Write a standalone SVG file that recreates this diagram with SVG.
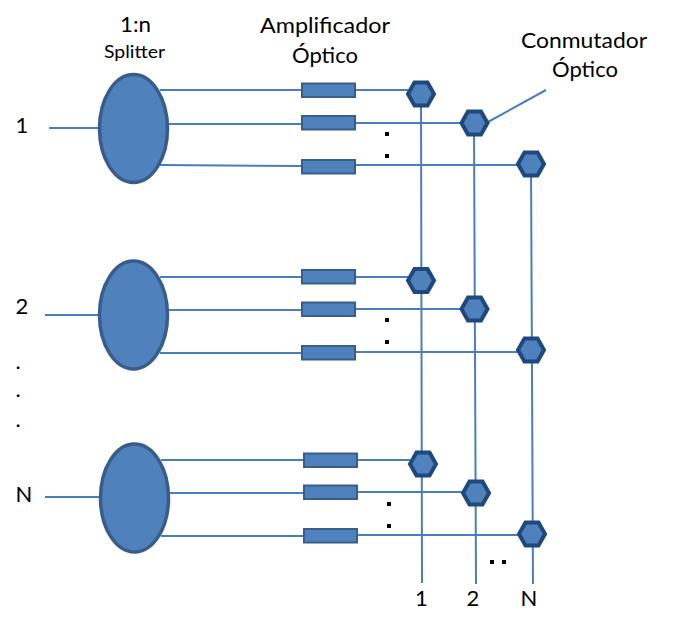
<svg xmlns="http://www.w3.org/2000/svg" width="681" height="629" viewBox="0 0 681 629">
<style>
.c{fill:none;stroke:#4a7ebb;stroke-width:2}
.s{fill:#4f81bd;stroke:#385d8a;stroke-width:3.500}
.a{fill:#4f81bd;stroke:#385d8a;stroke-width:2}
.h{fill:#4f81bd;stroke:#1f497d;stroke-width:4}
.t{font-family:Lato,"Open Sans","Liberation Sans",sans-serif;font-size:22px;fill:#000;text-anchor:middle}
.d{fill:#000}
</style>
<defs>
<polygon id="hex" points="-13,0 -6.500,-11.500 6.500,-11.500 13,0 6.500,11.500 -6.500,11.500"/>
</defs>
<g id="connectors" class="c">
<path d="M49 128H98M160 90H302M168 124H302M160 165L302 166M355 90H408M355 123H461M355 165H517"/>
<path d="M45 315H98M160 277H302M168 310H302M160 353L302 353M355 277H408M355 309H461M355 352H517"/>
<path d="M45 497H99M161 460H304M169 493H304M161 536L304 536M357 460H410M357 492H463M357 535H519"/>
<path d="M421 94L422 583M474 123L476 584M531 164L533 584M488 122L546 90"/>
</g>
<g id="splitter-1"><ellipse class="s" cx="133.500" cy="128.500" rx="34" ry="54"/></g>
<g id="splitter-2"><ellipse class="s" cx="133.500" cy="315" rx="34" ry="54"/></g>
<g id="splitter-3"><ellipse class="s" cx="134.500" cy="498" rx="34" ry="54"/></g>
<g id="amps-1">
<rect class="a" x="302" y="83.500" width="53" height="13.500"/>
<rect class="a" x="302" y="116" width="53" height="13.500"/>
<rect class="a" x="302" y="160" width="53" height="13.500"/>
</g>
<g id="amps-2">
<rect class="a" x="302" y="270" width="53" height="13.500"/>
<rect class="a" x="302" y="302.500" width="53" height="13.500"/>
<rect class="a" x="302" y="346" width="53" height="13.500"/>
</g>
<g id="amps-3">
<rect class="a" x="304" y="453.500" width="53" height="13.500"/>
<rect class="a" x="304" y="485.500" width="53" height="13.500"/>
<rect class="a" x="304" y="529" width="53" height="13.500"/>
</g>
<g id="switches-1">
<use href="#hex" class="h" x="421" y="94"/>
<use href="#hex" class="h" x="474.500" y="123"/>
<use href="#hex" class="h" x="531" y="164"/>
</g>
<g id="switches-2">
<use href="#hex" class="h" x="421" y="280.500"/>
<use href="#hex" class="h" x="474.500" y="309"/>
<use href="#hex" class="h" x="531" y="350"/>
</g>
<g id="switches-3">
<use href="#hex" class="h" x="423" y="464"/>
<use href="#hex" class="h" x="476" y="493"/>
<use href="#hex" class="h" x="532" y="534"/>
</g>
<g id="dots">
<rect class="d" x="385" y="132" width="4" height="4"/><rect class="d" x="385" y="154" width="4" height="4"/>
<rect class="d" x="385" y="318" width="4" height="4"/><rect class="d" x="385" y="340" width="4" height="4"/>
<rect class="d" x="387" y="502" width="4" height="4"/><rect class="d" x="387" y="524" width="4" height="4"/>
<rect class="d" x="490" y="560" width="4" height="4"/><rect class="d" x="502" y="560" width="4" height="4"/>
</g>
<g id="labels">
<text class="t" x="135.500" y="32" textLength="31" lengthAdjust="spacingAndGlyphs">1:n</text>
<text class="t" x="134.500" y="58" textLength="61" lengthAdjust="spacingAndGlyphs" style="font-size:18px">Splitter</text>
<text class="t" x="325" y="33" textLength="130" lengthAdjust="spacingAndGlyphs">Amplificador</text>
<text class="t" x="325" y="63" textLength="66" lengthAdjust="spacingAndGlyphs">Óptico</text>
<text class="t" x="584" y="48" textLength="126" lengthAdjust="spacingAndGlyphs">Conmutador</text>
<text class="t" x="585" y="77" textLength="66" lengthAdjust="spacingAndGlyphs">Óptico</text>
<text class="t" x="22" y="133">1</text>
<text class="t" x="22" y="314">2</text>
<text class="t" x="18" y="369">.</text>
<text class="t" x="18" y="397">.</text>
<text class="t" x="18" y="427">.</text>
<text class="t" x="24" y="502">N</text>
<text class="t" x="421.500" y="605.500">1</text>
<text class="t" x="473" y="605.500">2</text>
<text class="t" x="529" y="605.500">N</text>
</g>
</svg>
